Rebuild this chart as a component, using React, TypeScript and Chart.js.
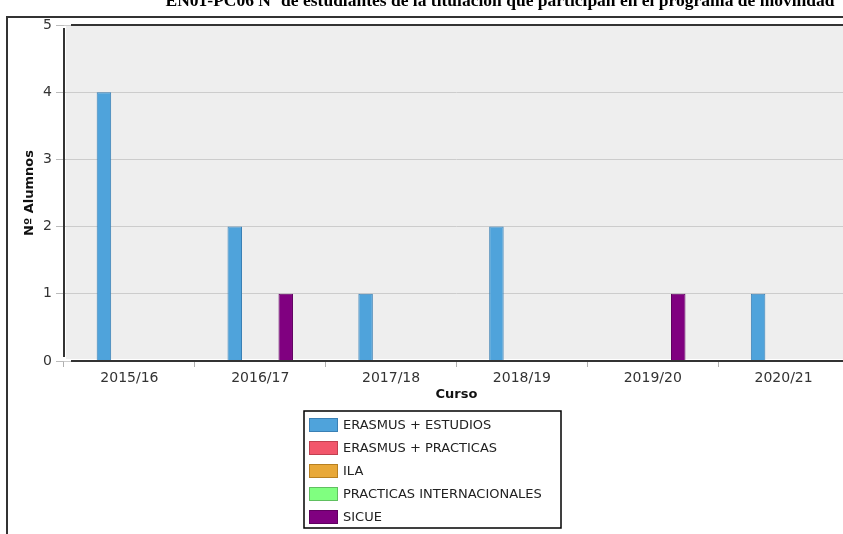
import React, { useEffect, useRef } from "react";
import { Chart, registerables } from "chart.js";

Chart.register(...registerables);

const pageTitle = "EN01-PC06 Nº de estudiantes de la titulación que participan en el programa de movilidad";
const categories = ["2015/16", "2016/17", "2017/18", "2018/19", "2019/20", "2020/21"];
const seriesNames = ["ERASMUS + ESTUDIOS", "ERASMUS + PRACTICAS", "ILA", "PRACTICAS INTERNACIONALES", "SICUE"];
const erasmusEstudios = [4, 2, 1, 2, 0, 1];
const erasmusPracticas = [0, 0, 0, 0, 0, 0];
const ila = [0, 0, 0, 0, 0, 0];
const practicasInternacionales = [0, 0, 0, 0, 0, 0];
const sicue = [0, 1, 0, 0, 1, 0];
const fillColors = ["#4fa3db", "#f2566b", "#e8a838", "#80ff80", "#800080"];
const borderColors = ["#3a80b5", "#c04050", "#b88020", "#60c060", "#600060"];
const yAxisTitle = "Nº Alumnos";
const xAxisTitle = "Curso";

const CW = 870;
const CH = 534;

export default function App() {
  const ref = useRef<HTMLCanvasElement | null>(null);
  useEffect(() => {
    const canvas = ref.current;
    if (!canvas) return;
    const values = [erasmusEstudios, erasmusPracticas, ila, practicasInternacionales, sicue];
    const decor = {
      id: "decor",
      beforeDraw(chart: any) {
        const { ctx, chartArea } = chart;
        ctx.save();
        ctx.fillStyle = "#ffffff";
        ctx.fillRect(0, 0, chart.width, chart.height);
        ctx.fillStyle = "#eeeeee";
        ctx.fillRect(chartArea.left + 2, chartArea.top, chartArea.right - chartArea.left, chartArea.bottom - chartArea.top - 2);
        // page frame
        ctx.strokeStyle = "#333333";
        ctx.lineWidth = 2;
        ctx.beginPath();
        ctx.moveTo(7, CH);
        ctx.lineTo(7, 17);
        ctx.lineTo(CW, 17);
        ctx.stroke();
        // page title (cut off)
        ctx.fillStyle = "#000000";
        ctx.font = "bold 17.5px 'Liberation Serif', serif";
        ctx.textAlign = "center";
        ctx.textBaseline = "alphabetic";
        ctx.fillText(pageTitle, 500, 6);
        ctx.restore();
      },
      afterDatasetsDraw(chart: any) {
        const { ctx, chartArea } = chart;
        ctx.save();
        ctx.strokeStyle = "#333333";
        ctx.lineWidth = 2;
        ctx.beginPath();
        ctx.moveTo(chartArea.left + 7, chartArea.top);
        ctx.lineTo(CW, chartArea.top);
        ctx.moveTo(chartArea.left + 7, chartArea.bottom);
        ctx.lineTo(CW, chartArea.bottom);
        ctx.stroke();
        ctx.beginPath();
        ctx.moveTo(chartArea.left, chartArea.top + 3);
        ctx.lineTo(chartArea.left, chartArea.bottom - 4);
        ctx.stroke();
        // legend box
        const bx = 304, by = 411, bw = 257, bh = 117;
        ctx.lineWidth = 1.5;
        ctx.strokeStyle = "#000000";
        ctx.fillStyle = "#ffffff";
        ctx.fillRect(bx, by, bw, bh);
        ctx.strokeRect(bx, by, bw, bh);
        ctx.font = "13px 'DejaVu Sans', sans-serif";
        ctx.textAlign = "left";
        ctx.textBaseline = "middle";
        seriesNames.forEach((name, i) => {
          const cy = 425 + i * 23;
          ctx.fillStyle = fillColors[i];
          ctx.fillRect(309, cy - 7, 29, 14);
          ctx.strokeStyle = borderColors[i];
          ctx.lineWidth = 1;
          ctx.strokeRect(309.5, cy - 6.5, 28, 13);
          ctx.fillStyle = "#222222";
          ctx.fillText(name, 343, cy + 1);
        });
        ctx.restore();
      },
    };
    const chart = new Chart(canvas, {
      type: "bar",
      data: {
        labels: categories,
        datasets: seriesNames.map((name, i) => ({
          label: name,
          data: values[i],
          backgroundColor: fillColors[i],
          borderColor: borderColors[i],
          borderWidth: 1,
          categoryPercentage: 0.487,
          barPercentage: 1.137,
        })),
      },
      options: {
        animation: false,
        responsive: false,
        devicePixelRatio: 1,
        layout: { padding: { left: 0, top: 25, right: CW - 849, bottom: 132 } },
        plugins: { legend: { display: false }, tooltip: { enabled: false }, title: { display: false } },
        scales: {
          x: {
            afterFit: (s: any) => { s.height = 41; },
            grid: { drawOnChartArea: false, offset: true, tickLength: 6, color: "#b0b0b0", lineWidth: 1 },
            border: { display: false },
            ticks: { font: { family: "'DejaVu Sans', sans-serif", size: 14 }, color: "#333333", padding: 3 },
            title: { display: true, text: xAxisTitle, font: { family: "'DejaVu Sans', sans-serif", size: 13, weight: "bold" }, color: "#111111", padding: { top: 0, bottom: 0 } },
          },
          y: {
            min: 0,
            max: 5,
            afterFit: (s: any) => { s.width = 64; },
            grid: { color: "#cccccc", tickColor: "#bbbbbb", tickLength: 8, lineWidth: 1 },
            border: { display: false },
            ticks: { stepSize: 1, font: { family: "'DejaVu Sans', sans-serif", size: 14 }, color: "#333333", padding: 4 },
            title: { display: true, text: yAxisTitle, font: { family: "'DejaVu Sans', sans-serif", size: 13, weight: "bold" }, color: "#111111", padding: { top: 22, bottom: 0 } },
          },
        },
      },
      plugins: [decor],
    });
    return () => chart.destroy();
  }, []);
  return (
    <div style={{ position: "fixed", left: 0, top: 0, width: 843, height: 534, overflow: "hidden", background: "#fff" }}>
      <canvas ref={ref} width={CW} height={CH} style={{ width: CW, height: CH, display: "block" }} />
    </div>
  );
}
